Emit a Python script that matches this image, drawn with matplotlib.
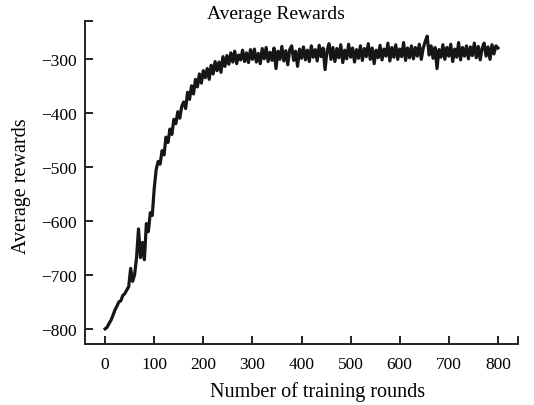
import numpy as np
import matplotlib
matplotlib.use("Agg")
import matplotlib.pyplot as plt

plt.rcParams['font.family'] = ['Liberation Serif', 'DejaVu Serif']

rewards = [
    -800, -797, -790, -784, -775, -765, -758, -750, -748, -738,
    -735, -728, -722, -688, -712, -700, -668, -615, -668, -640,
    -672, -605, -620, -585, -590, -540, -505, -490, -495, -470,
    -478, -445, -455, -430, -440, -412, -420, -398, -410, -388,
    -380, -392, -362, -375, -350, -365, -338, -352, -328, -345,
    -322, -335, -318, -338, -312, -328, -305, -322, -306, -325,
    -296, -314, -294, -310, -289, -306, -286, -309, -293, -302,
    -284, -305, -289, -307, -283, -301, -282, -306, -290, -309,
    -281, -300, -279, -305, -288, -303, -280, -318, -286, -301,
    -277, -304, -285, -311, -283, -276, -303, -286, -314, -282,
    -299, -278, -302, -284, -305, -276, -297, -283, -304, -275,
    -296, -280, -320, -285, -272, -301, -279, -305, -281, -298,
    -274, -307, -284, -300, -273, -297, -280, -306, -283, -299,
    -276, -303, -281, -296, -272, -301, -280, -309, -284, -298,
    -275, -302, -282, -295, -271, -304, -279, -297, -274, -301,
    -282, -296, -270, -303, -280, -298, -276, -300, -279, -295,
    -273, -301, -280, -268, -258, -293, -276, -299, -279, -318,
    -283, -297, -274, -301, -279, -295, -273, -305, -282, -297,
    -270, -302, -279, -295, -276, -300, -278, -294, -271, -298,
    -277, -302, -280, -271, -295, -278, -301, -274, -291, -276,
    -280,
]
rounds = np.arange(0, 4 * len(rewards), 4)

x_ticks = [0, 100, 200, 300, 400, 500, 600, 700, 800]
y_ticks = [-800, -700, -600, -500, -400, -300]

W, H = 534, 406
fig = plt.figure(figsize=(W / 100, H / 100), dpi=100)
ax = fig.add_axes([85 / W, 61 / H, 433 / W, 323 / H])

ax.plot(rounds, rewards, color='#161616', linewidth=2.3)

xlim = (-41, 841)
ylim = (-828, -230)
ax.set_xlim(*xlim)
ax.set_ylim(*ylim)
ax.set_xticks(x_ticks)
ax.set_yticks(y_ticks)
ax.set_xticks([xlim[1]], minor=True)
ax.set_yticks([ylim[1]], minor=True)
ax.tick_params(which='both', direction='in', length=6, width=1.4, labelsize=12.5, color='#222222')
ax.tick_params(axis='x', pad=9)
ax.tick_params(axis='y', pad=6)

for side in ['top', 'right']:
    ax.spines[side].set_visible(False)
for side in ['left', 'bottom']:
    ax.spines[side].set_linewidth(1.4)
    ax.spines[side].set_color('#222222')

fig.text(276 / W, 1 - 19 / H, 'Average Rewards', fontsize=14, ha='center', va='baseline')
ax.set_xlabel('Number of training rounds', fontsize=14.5)
ax.xaxis.set_label_coords(0.536, -0.115)
ax.set_ylabel('Average rewards', fontsize=14.5)
ax.yaxis.set_label_coords(-0.125, 0.492)

fig.savefig('out.png', dpi=100)
